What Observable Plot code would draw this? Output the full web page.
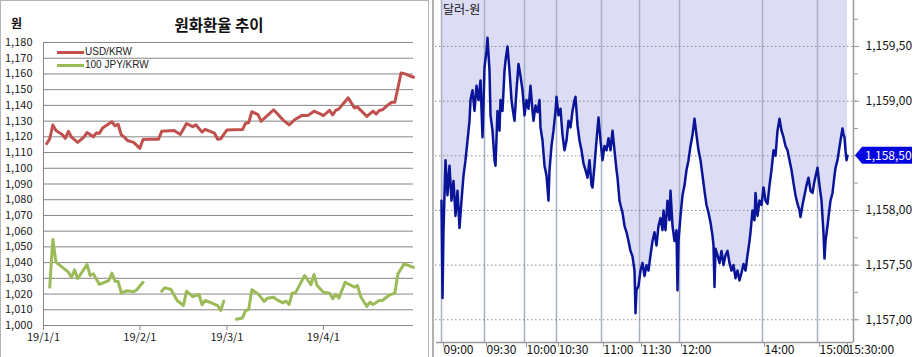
<!DOCTYPE html>
<html><head><meta charset="utf-8">
<script src="https://cdn.jsdelivr.net/npm/d3@7"></script>
<script src="https://cdn.jsdelivr.net/npm/@observablehq/plot@0.6"></script>
<style>
html,body{margin:0;padding:0;background:#fff;overflow:hidden;}
#wrap{position:relative;width:914px;height:357px;font-family:"Noto Sans CJK KR","Noto Sans",sans-serif;overflow:hidden;}
.abs{position:absolute;}
</style></head><body><div id="wrap"></div>
<script>
// ---------- Left chart data ----------
const leftTitle = "원화환율 추이";
const leftUnit = "원";
const seriesNames = ["USD/KRW", "100 JPY/KRW"];
const usdDates = ["2019-01-02","2019-01-03","2019-01-04","2019-01-05","2019-01-07","2019-01-08","2019-01-09","2019-01-10","2019-01-12","2019-01-14","2019-01-15","2019-01-17","2019-01-18","2019-01-19","2019-01-20","2019-01-23","2019-01-24","2019-01-25","2019-01-26","2019-01-27","2019-01-28","2019-01-30","2019-02-01","2019-02-02","2019-02-04","2019-02-07","2019-02-08","2019-02-12","2019-02-14","2019-02-16","2019-02-18","2019-02-19","2019-02-21","2019-02-22","2019-02-25","2019-02-26","2019-02-27","2019-03-01","2019-03-06","2019-03-07","2019-03-08","2019-03-09","2019-03-11","2019-03-12","2019-03-16","2019-03-18","2019-03-19","2019-03-21","2019-03-23","2019-03-25","2019-03-27","2019-03-29","2019-03-31","2019-04-01","2019-04-03","2019-04-04","2019-04-05","2019-04-06","2019-04-09","2019-04-11","2019-04-12","2019-04-15","2019-04-17","2019-04-18","2019-04-19","2019-04-20","2019-04-22","2019-04-23","2019-04-24","2019-04-26","2019-04-27","2019-04-30"];
const usdValues = [1115.6,1118.7,1127.5,1124.0,1121.5,1119.0,1123.5,1119.8,1116.5,1119.8,1122.7,1120.0,1122.5,1122.3,1125.6,1129.6,1127.0,1128.0,1121.3,1119.8,1117.7,1116.5,1112.7,1118.3,1118.5,1118.5,1123.5,1124.0,1121.5,1128.5,1126.5,1127.7,1123.0,1124.8,1122.3,1118.5,1118.7,1124.4,1124.6,1128.7,1129.0,1136.0,1134.1,1129.9,1137.2,1133.0,1130.8,1127.6,1131.2,1133.5,1133.5,1136.3,1134.6,1133.5,1136.8,1134.0,1136.8,1137.8,1144.8,1138.4,1138.9,1133.0,1136.3,1134.5,1136.8,1137.2,1140.6,1142.0,1142.0,1160.6,1160.2,1157.9];
const jpyDates = ["2019-01-03","2019-01-04","2019-01-05","2019-01-07","2019-01-09","2019-01-10","2019-01-11","2019-01-12","2019-01-15","2019-01-16","2019-01-17","2019-01-19","2019-01-22","2019-01-23","2019-01-24","2019-01-25","2019-01-26","2019-01-28","2019-01-30","2019-01-31","2019-02-02","2019-02-04","2019-02-08","2019-02-09","2019-02-11","2019-02-13","2019-02-15","2019-02-16","2019-02-18","2019-02-20","2019-02-21","2019-02-22","2019-02-24","2019-02-26","2019-02-27","2019-02-28","2019-03-02","2019-03-04","2019-03-06","2019-03-07","2019-03-08","2019-03-09","2019-03-11","2019-03-13","2019-03-14","2019-03-16","2019-03-17","2019-03-19","2019-03-20","2019-03-21","2019-03-22","2019-03-23","2019-03-26","2019-03-28","2019-03-29","2019-03-30","2019-04-01","2019-04-03","2019-04-04","2019-04-05","2019-04-06","2019-04-08","2019-04-11","2019-04-12","2019-04-13","2019-04-15","2019-04-16","2019-04-17","2019-04-19","2019-04-20","2019-04-22","2019-04-24","2019-04-25","2019-04-27","2019-04-30"];
const jpyValues = [1024.4,1054.7,1040.3,1037.1,1033.9,1030.7,1035.4,1029.7,1038.8,1031.8,1032.9,1026.1,1028.6,1033.3,1028.2,1028.0,1020.8,1022.1,1021.4,1022.7,1027.5,null,1021.8,1024.0,1022.9,1015.9,1012.7,1021.8,1018.4,1019.7,1013.2,1015.9,1014.4,1012.7,1009.5,1015.5,null,1004.0,1004.8,1009.5,1010.2,1022.7,1020.1,1015.3,1017.4,1018.0,1016.5,1014.4,1015.6,1013.4,1020.6,1020.6,1031.8,1025.9,1032.4,1025.4,1021.2,1020.6,1017.0,1019.8,1017.4,1027.5,1024.4,1025.4,1018.4,1012.1,1014.8,1013.4,1015.9,1015.9,1019.1,1020.6,1032.9,1039.2,1037.0];
const leftYTicks = [1000,1010,1020,1030,1040,1050,1060,1070,1080,1090,1100,1110,1120,1130,1140,1150,1160,1170,1180];
const leftXDomain = ["2019-01-01","2019-04-30"];
const monthTicks = ["2019-01-01","2019-02-01","2019-03-01","2019-04-01"];

// ---------- Right chart data (tick sequence index, price) ----------
const rightUnit = "달러-원";
const tickIndex = [0,1,2,4,6,8,10,12,14,16,18,20,22,24,26,28,29,31,33,35,37,39,41,43,45,46,48,49,51,53,54,56,58,59,61,63,64,66,68,70,71,73,75,77,79,81,83,85,87,89,91,92,94,96,98,99,101,103,105,107,108,110,112,114,115,117,119,121,123,125,127,129,131,133,134,136,138,140,142,144,146,148,150,151,153,155,157,159,161,163,165,167,169,171,173,175,176,178,179,181,183,185,187,189,191,193,194,195,197,199,201,203,205,207,209,211,213,215,217,219,221,222,224,226,228,229,231,233,235,236,237,239,241,243,245,247,249,251,253,255,257,259,261,263,265,267,269,271,272,273,274,276,278,280,282,284,286,288,290,292,294,296,298,300,302,304,306,308,309,311,313,314,316,318,320,322,324,326,328,330,332,334,336,338,340,342,344,346,348,350,352,354,356,358,359,361,363,365,367,369,371,373,375,376,378,380,382,383,384,386,387,389,391,393,394,396,397,399,401,402,403,404,405,406];
const tickPrice = [1158.09,1157.20,1157.82,1158.46,1158.14,1158.41,1158.09,1158.27,1157.95,1158.18,1157.84,1158.09,1158.32,1158.46,1158.64,1158.82,1159.01,1159.10,1158.91,1159.14,1159.01,1159.19,1158.67,1159.31,1159.46,1159.58,1159.28,1158.87,1158.73,1158.46,1158.41,1158.91,1158.73,1159.01,1158.91,1159.28,1159.37,1159.50,1159.28,1159.01,1158.94,1158.82,1159.10,1159.34,1159.23,1159.10,1158.87,1159.01,1158.93,1159.14,1158.91,1158.82,1158.96,1158.90,1159.01,1158.76,1158.64,1158.41,1158.32,1158.09,1158.37,1158.59,1158.73,1158.91,1159.04,1158.87,1158.93,1158.69,1158.55,1158.64,1158.82,1158.76,1158.91,1159.01,1159.04,1158.78,1158.64,1158.55,1158.43,1158.37,1158.30,1158.46,1158.23,1158.21,1158.41,1158.64,1158.85,1158.64,1158.46,1158.59,1158.55,1158.66,1158.55,1158.73,1158.55,1158.37,1158.30,1158.09,1158.05,1157.98,1157.86,1157.80,1157.72,1157.63,1157.58,1157.45,1157.06,1157.27,1157.31,1157.45,1157.52,1157.40,1157.50,1157.45,1157.59,1157.72,1157.80,1157.68,1157.86,1157.93,1157.82,1158.00,1157.82,1158.09,1157.91,1158.18,1157.86,1157.72,1157.82,1157.27,1157.72,1157.95,1158.14,1158.23,1158.37,1158.46,1158.59,1158.69,1158.84,1158.69,1158.55,1158.46,1158.32,1158.18,1158.05,1157.98,1157.89,1157.77,1157.68,1157.30,1157.65,1157.59,1157.52,1157.63,1157.50,1157.59,1157.63,1157.52,1157.45,1157.50,1157.38,1157.45,1157.36,1157.43,1157.51,1157.45,1157.59,1157.72,1157.80,1158.00,1157.91,1158.16,1157.95,1158.09,1158.05,1158.21,1158.09,1158.06,1158.23,1158.37,1158.55,1158.50,1158.73,1158.84,1158.73,1158.67,1158.59,1158.55,1158.46,1158.37,1158.25,1158.14,1158.06,1158.00,1157.94,1158.05,1158.14,1158.23,1158.30,1158.18,1158.16,1158.27,1158.35,1158.39,1158.23,1158.09,1157.79,1157.56,1157.72,1157.86,1157.94,1158.09,1158.16,1158.32,1158.39,1158.46,1158.52,1158.64,1158.75,1158.69,1158.67,1158.55,1158.46,1158.50];
const timeTickIndex = [0,43,83,115,160,198,238,321,376,404];
const timeTickLabels = ["09:00","09:30","10:00","10:30","11:00","11:30","12:00","14:00","15:00","15:30:00"];
const xIndexDomain = [0,412];
const priceDomain = [1156.792,1159.921];
const priceTicks = [1157.0,1157.5,1158.0,1158.5,1159.0,1159.5];
const priceMinorTicks = [1157.25,1157.75,1158.25,1158.75,1159.25,1159.75];

// ---------- build ----------
const wrap = document.getElementById("wrap");
const font = '"Noto Sans CJK KR","Noto Sans",sans-serif';

const usd = usdDates.map((d, i) => ({date: new Date(d), value: usdValues[i]}));
const jpy = jpyDates.map((d, i) => ({date: new Date(d), value: jpyValues[i]}));

const left = Plot.plot({
  width: 430, height: 357,
  marginLeft: 43, marginRight: 17, marginTop: 42, marginBottom: 32,
  x: {type: "utc", domain: leftXDomain.map(d => new Date(d))},
  y: {domain: [leftYTicks[0], leftYTicks[leftYTicks.length - 1]]},
  style: {fontFamily: font, fontSize: "11px", color: "#222", background: "transparent"},
  marks: [
    Plot.ruleY(leftYTicks, {stroke: "#858585", strokeWidth: 1}),
    Plot.ruleX([new Date(leftXDomain[0])], {stroke: "#858585"}),
    Plot.axisY({ticks: leftYTicks, tickFormat: d3.format(","), tickSize: 0, tickPadding: 11, label: null}),
    Plot.axisX({ticks: monthTicks.map(d => new Date(d)),
      tickFormat: d => `${String(d.getUTCFullYear()).slice(2)}/${d.getUTCMonth() + 1}/${d.getUTCDate()}`,
      tickSize: 5, tickPadding: 3, label: null, stroke: "#858585", fill: "#222"}),
    Plot.line(jpy, {x: "date", y: "value", stroke: "#9bbb59", strokeWidth: 3, strokeLinejoin: "round"}),
    Plot.line(usd, {x: "date", y: "value", stroke: "#c0504d", strokeWidth: 3, strokeLinejoin: "round"})
  ]
});
left.style.position = "absolute"; left.style.left = "0px"; left.style.top = "0px";
wrap.appendChild(left);

const intraday = tickIndex.map((i, k) => ({i, v: tickPrice[k]}));
const last = intraday[intraday.length - 1].v;
const priceFmt = v => d3.format(",.2f")(v).replace(".", ",");

const marker = (index, scales, values, dims) => {
  const y = scales.y(last);
  const x0 = dims.width - dims.marginRight + 2;
  const g = d3.create("svg:g");
  g.append("path")
    .attr("d", `M${x0},${y}L${x0 + 7},${y - 8.5}H${x0 + 57}V${y + 8.5}H${x0 + 7}Z`)
    .attr("fill", "#0505e0");
  g.append("text").attr("x", x0 + 10).attr("y", y).attr("dy", "0.36em")
    .attr("text-anchor", "start")
    .attr("fill", "#fff").attr("font-size", 12).attr("font-family", font)
    .text(priceFmt(last));
  return g.node();
};

const right = Plot.plot({
  width: 484, height: 357,
  marginLeft: 11, marginRight: 61, marginTop: 0, marginBottom: 15,
  x: {domain: xIndexDomain},
  y: {domain: priceDomain},
  style: {fontFamily: font, fontSize: "12px", color: "#111", background: "transparent", overflow: "visible"},
  marks: [
    Plot.areaY(intraday, {x: "i", y1: "v", y2: priceDomain[1], fill: "#dcdcf5"}),
    Plot.ruleX(timeTickIndex.slice(0, -1), {stroke: "#a6b0c6", strokeWidth: 1.5}),
    Plot.ruleY(priceTicks, {stroke: "#8c8c8c", strokeDasharray: "1.5,2.5", insetLeft: -6, insetRight: -4}),
    Plot.line(intraday, {x: "i", y: "v", stroke: "#0a1499", strokeWidth: 2.5}),
    Plot.ruleY([priceDomain[0]], {stroke: "#9a9a9a", strokeWidth: 1.5, insetLeft: -5}),
    Plot.ruleX([xIndexDomain[1]], {stroke: "#9a9a9a", strokeWidth: 1.5}),
    Plot.axisX({ticks: timeTickIndex, tickFormat: (d) => timeTickLabels[timeTickIndex.indexOf(d)],
      tickSize: 5, tickPadding: -2, textAnchor: "start", dx: 2, label: null, stroke: "#9a9a9a", fill: "#111"}),
    Plot.axisY({anchor: "right", ticks: priceTicks.filter(v => v !== last), tickFormat: priceFmt, tickSize: 5, tickPadding: 7,
      label: null, stroke: "#9a9a9a", fill: "#111"}),
    Plot.axisY({anchor: "right", ticks: priceMinorTicks.concat([last]), tickFormat: () => "", tickSize: 4, label: null, stroke: "#9a9a9a"}),
    marker
  ]
});
right.style.position = "absolute"; right.style.left = "430px"; right.style.top = "0px";
wrap.appendChild(right);

// ---------- decorations (text) ----------
function addDiv(text, css) {
  const el = document.createElement("div");
  el.className = "abs";
  el.textContent = text;
  Object.assign(el.style, css);
  wrap.appendChild(el);
  return el;
}
// left frame
const frame = document.createElement("div");
frame.className = "abs";
Object.assign(frame.style, {left: "0px", top: "0px", width: "427px", height: "380px", border: "1px solid #b4b4b4"});
wrap.appendChild(frame);
// right panel left border
const sep = document.createElement("div");
sep.className = "abs";
Object.assign(sep.style, {left: "432px", top: "0px", width: "2px", height: "357px", background: "#b0b0b0"});
wrap.appendChild(sep);

addDiv(leftTitle, {left: "0px", width: "438px", top: "13px", textAlign: "center", fontSize: "15.5px", fontWeight: "bold", color: "#111", lineHeight: "22px"});
addDiv(leftUnit, {left: "11px", top: "14px", fontSize: "12px", fontWeight: "bold", color: "#111", lineHeight: "18px"});
addDiv(rightUnit, {left: "443px", top: "2px", fontSize: "12px", color: "#111", lineHeight: "14px"});

// legend
const legendColors = ["#c0504d", "#9bbb59"];
seriesNames.forEach((name, k) => {
  const y = 52 + k * 13;
  const ln = document.createElement("div");
  ln.className = "abs";
  Object.assign(ln.style, {left: "57px", top: (y - 1.5) + "px", width: "27px", height: "3px", background: legendColors[k]});
  wrap.appendChild(ln);
  addDiv(name, {left: "85px", top: (y - 7) + "px", fontSize: "10px", color: "#222", lineHeight: "14px", fontFamily: '"Liberation Sans",Arial,sans-serif'});
});
</script>
</body></html>
